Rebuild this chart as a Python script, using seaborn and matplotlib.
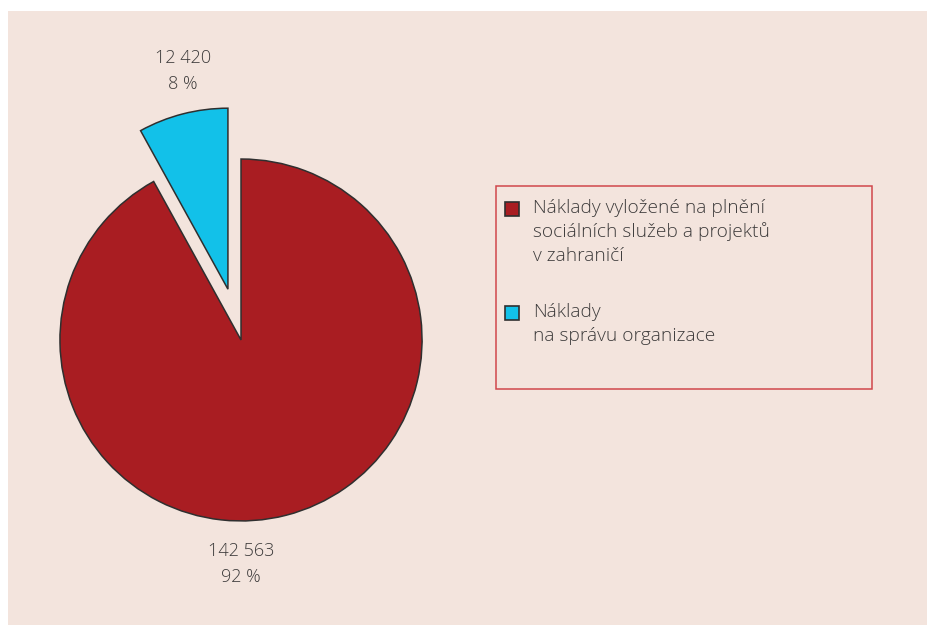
import matplotlib
matplotlib.use("Agg")
import matplotlib.pyplot as plt
from matplotlib.patches import Rectangle
import seaborn as sns

# data
categories = ["Náklady\nna správu organizace",
              "Náklady vyložené na plnění\nsociálních služeb a projektů\nv zahraničí"]
values = [12420, 142563]
value_labels = ["12 420", "142 563"]
pct_labels = ["8 %", "92 %"]
colors = ["#12c1e9", "#a91d22"]
explode = [0.29, 0]

sns.set_theme(style="white")
plt.rcParams["font.family"] = ["Open Sans", "DejaVu Sans"]

bg = "#f3e4dd"
text_col = "#3d3b3b"
W, H = 928, 625

fig = plt.figure(figsize=(W / 100, H / 100), dpi=100)
fig.patch.set_facecolor("white")
fig.add_artist(Rectangle((8 / W, 0), 1, 1 - 11 / H, transform=fig.transFigure,
                         facecolor=bg, edgecolor="none", zorder=0))

ax = fig.add_axes([8 / W, 0, 472 / W, 614 / H])
ax.set_facecolor("none")
wedges, _ = ax.pie(values, colors=colors, explode=explode, startangle=90,
                   counterclock=True, radius=1,
                   wedgeprops=dict(edgecolor="#2f2f2f", linewidth=1.1))
ax.set_xlim(-1.287, 1.320)
ax.set_ylim(-1.575, 1.818)
ax.set_aspect("equal", adjustable="datalim")
ax.axis("off")

# value labels
label_pos = [(-0.32, 1.486), (0.0, -1.238)]
for (x, y), v, p in zip(label_pos, value_labels, pct_labels):
    ax.text(x, y, f"{v}\n{p}", ha="center", va="center", fontsize=13,
            color=text_col, linespacing=1.55, fontweight="light")

# legend box
fig.add_artist(Rectangle((496 / W, (H - 389) / H), 376 / W, 203 / H,
                         transform=fig.transFigure, facecolor="none",
                         edgecolor="#d0474c", linewidth=1.1, zorder=3))

# legend entries: red first, then cyan (marker aligned with first line)
legend_rows = [(1, 209), (0, 313)]
for idx, y0 in legend_rows:
    fig.add_artist(Rectangle((505 / W, (H - y0 - 7) / H), 14 / W, 14 / H,
                             transform=fig.transFigure,
                             facecolor=wedges[idx].get_facecolor(),
                             edgecolor="#2f2f2f", linewidth=1.2, zorder=4))
    for k, line in enumerate(categories[idx].split("\n")):
        fig.text(533 / W, (H - (y0 + 4 + 24 * k)) / H, line, ha="left",
                 va="baseline", fontsize=13.8, color=text_col, fontweight="light")

fig.savefig("out.png", dpi=100, facecolor=fig.get_facecolor())
